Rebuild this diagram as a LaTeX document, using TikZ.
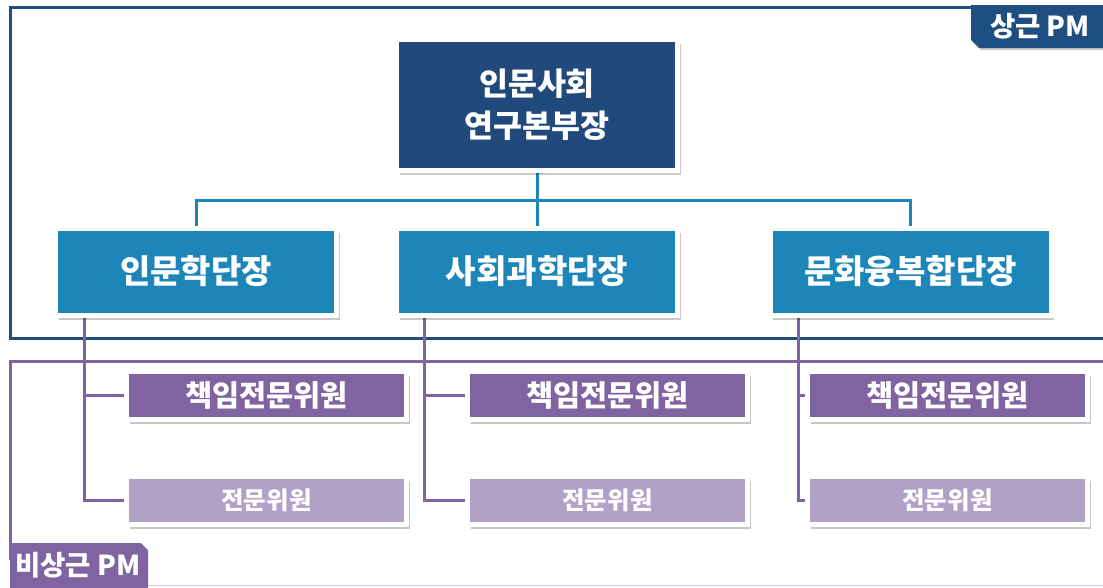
\documentclass[tikz,border=0pt]{standalone}
\usepackage{fontspec}
\newfontfamily\kr{Noto Sans CJK KR}
\usetikzlibrary{shadows,backgrounds}
\definecolor{topblue}{HTML}{21497C}
\definecolor{midblue}{HTML}{1E85B9}
\definecolor{frameblue}{HTML}{1F4E80}
\definecolor{purp}{HTML}{8064A2}
\definecolor{lpurp}{HTML}{B2A1C7}
\definecolor{lav}{HTML}{CFC6E0}
\tikzset{
  box/.style={draw=white, line width=5pt, text=white, align=center, inner sep=0pt,
    drop shadow={shadow xshift=3pt, shadow yshift=-4.5pt, opacity=0.22, fill=black}},
  topbox/.style={box, fill=topblue, minimum width=281pt, minimum height=131pt,
    font=\kr\bfseries\fontsize{31.5}{42}\selectfont},
  midbox/.style={box, fill=midblue, minimum width=281pt, minimum height=87pt,
    font=\kr\bfseries\fontsize{33}{38}\selectfont},
  hibox/.style={box, fill=purp, minimum width=280pt, minimum height=48pt,
    font=\kr\bfseries\fontsize{29.5}{32}\selectfont},
  lobox/.style={box, fill=lpurp, minimum width=280pt, minimum height=48pt,
    font=\kr\bfseries\fontsize{24.5}{28}\selectfont},
  blueline/.style={draw=midblue, line width=3pt},
  purpline/.style={draw=purp, line width=3pt},
  framea/.style={draw=frameblue, line width=3pt},
  frameb/.style={draw=purp, line width=3pt},
  labtext/.style={text=white, inner sep=0pt, font=\kr\bfseries\fontsize{27.5}{30}\selectfont}
}
\begin{document}
\begin{tikzpicture}[x=1pt,y=-1pt]
\useasboundingbox (0,0) rectangle (1103,587);
\clip (0,0) rectangle (1103,587);

% boxes
\node[topbox] (top) at (537,105) {인문사회\\연구본부장};
\node[midbox] (m1) at (196,271.5) {인문학단장};
\node[midbox] (m2) at (537,271.5) {사회과학단장};
\node[midbox] (m3) at (910.5,271.5) {문화융복합단장};
\node[hibox] (h1) at (266.5,395.5) {책임전문위원};
\node[hibox] (h2) at (607.5,395.5) {책임전문위원};
\node[hibox] (h3) at (947.5,395.5) {책임전문위원};
\node[lobox] (l1) at (266.5,500.5) {전문위원};
\node[lobox] (l2) at (607.5,500.5) {전문위원};
\node[lobox] (l3) at (947.5,500.5) {전문위원};

\begin{scope}[on background layer]
  \fill[white] (0,0) rectangle (1103,587);
  % frames
  \draw[framea] (10,7) rectangle (1125,338);
  \draw[frameb] (10,560) -- (10,361) -- (1125,361);
  \draw[draw=lav, line width=1.5pt] (148,585.5) -- (1125,585.5);
  % blue connectors
  \coordinate (bus) at (537,200);
  \draw[blueline] (m1.north) |- (bus) -| (m3.north);
  \draw[blueline] (top.south) -- (m2.north);
  % purple connectors
  \coordinate (v1) at ([xshift=31.5pt]m1.south west);
  \coordinate (v2) at ([xshift=30.5pt]m2.south west);
  \coordinate (v3) at ([xshift=31pt]m3.south west);
  \foreach \i in {1,2,3}{
    \draw[purpline] (v\i) |- (l\i.west);
    \draw[purpline] (v\i |- h\i.west) -- (h\i.west);
  }
\end{scope}

% labels
\fill[black, opacity=0.2] (973,7) -- (1110,7) -- (1110,50) -- (981,50) -- (973,42) -- cycle;
\fill[frameblue] (971,5) -- (1110,5) -- (1110,48) -- (979,48) -- (971,40) -- cycle;
\node[labtext] (lab1) at (1040,26) {상근 PM};
\fill[purp] (10,543) -- (141,543) -- (148,550) -- (148,595) -- (10,595) -- cycle;
\node[labtext] (lab2) at (78,565) {비상근 PM};
\end{tikzpicture}
\end{document}
